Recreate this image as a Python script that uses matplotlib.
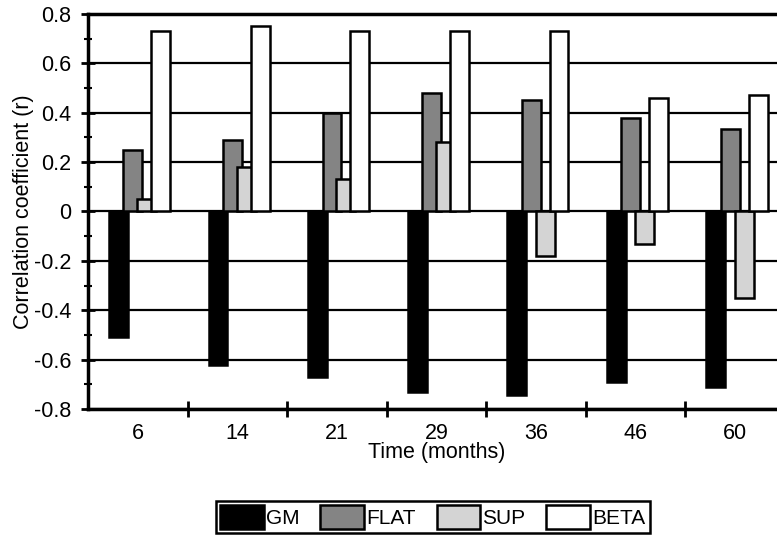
import matplotlib.pyplot as plt
import numpy as np
from matplotlib.ticker import MultipleLocator, FixedLocator

plt.rcParams['font.family'] = ['Liberation Sans', 'DejaVu Sans']

months = ['6', '14', '21', '29', '36', '46', '60']
gm = [-0.51, -0.62, -0.67, -0.73, -0.745, -0.69, -0.71]
flat = [0.25, 0.29, 0.40, 0.48, 0.45, 0.38, 0.335]
sup = [0.05, 0.18, 0.13, 0.28, -0.18, -0.13, -0.35]
beta = [0.73, 0.75, 0.73, 0.73, 0.73, 0.46, 0.47]
ytick_labels = ['-0.8', '-0.6', '-0.4', '-0.2', '0', '0.2', '0.4', '0.6', '0.8']

series = [('GM', gm, 'black'), ('FLAT', flat, '#848484'),
          ('SUP', sup, '#d4d4d4'), ('BETA', beta, 'white')]
offsets = [-0.195, -0.05, 0.09, 0.23]

fig = plt.figure(figsize=(7.77, 5.4), dpi=100)
ax = fig.add_axes([0.1133, 0.2426, 0.897, 0.7315])

x = np.arange(len(months))
for (name, vals, col), off in zip(series, offsets):
    ax.bar(x + off, vals, width=0.19, color=col, edgecolor='black',
           linewidth=1.8, label=name, zorder=3)

ax.set_xlim(-0.5, 6.5)
ax.set_ylim(-0.8, 0.8)
ax.set_yticks(np.arange(-0.8, 0.81, 0.2))
ax.set_yticklabels(ytick_labels)
ax.yaxis.set_minor_locator(MultipleLocator(0.1))

# ticks between groups, labels at group centres
ax.xaxis.set_major_locator(FixedLocator(x + 0.5))
ax.xaxis.set_minor_locator(FixedLocator(x))
ax.set_xticklabels([])
ax.set_xticklabels(months, minor=True)
ax.tick_params(axis='x', which='major', direction='inout', length=11, width=2)
ax.tick_params(axis='x', which='minor', length=0, pad=10, labelsize=15.5)
ax.tick_params(axis='y', which='major', direction='inout', length=10, width=2,
               labelsize=15.5, pad=7)
ax.tick_params(axis='y', which='minor', direction='inout', length=6, width=1.5)

ax.yaxis.grid(True, color='black', linewidth=1.6, zorder=0)
ax.set_axisbelow(True)
for s in ['top', 'right']:
    ax.spines[s].set_visible(False)
ax.spines['left'].set_linewidth(2.5)
ax.spines['bottom'].set_linewidth(2.5)
ax.axhline(0.8, color='black', linewidth=2.5, clip_on=False, zorder=1)

ax.set_ylabel('Correlation coefficient (r)', fontsize=15.5, labelpad=0)
ax.set_xlabel('Time (months)', fontsize=15.5, labelpad=-1)

leg = fig.legend(loc='center', bbox_to_anchor=(0.557, 0.043), ncol=4,
                 fontsize=15, handlelength=2.1, handleheight=1.4,
                 handletextpad=0.1, columnspacing=1.0, borderpad=0.2,
                 fancybox=False, framealpha=1, edgecolor='black')
leg.get_frame().set_linewidth(1.8)

fig.savefig('out.png', dpi=100)
